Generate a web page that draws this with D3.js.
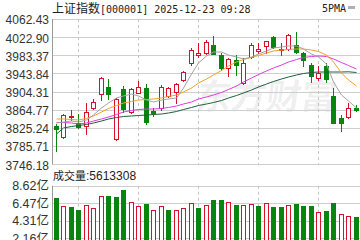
<!DOCTYPE html>
<html>
<head>
<meta charset="utf-8">
<script src="https://cdn.jsdelivr.net/npm/d3@7"></script>
<style>
  html, body { margin: 0; padding: 0; background: #fff; overflow: hidden; }
  svg { display: block; }
</style>
</head>
<body>
<svg id="kline-chart"></svg>
<script>
// Daily candles of 上证指数
const open = [3829.54, 3805.60, 3850.43, 3836.07, 3829.54, 3868.72, 3899.19, 3914.42, 3801.25, 3910.07, 3860.01, 3901.37, 3912.25, 3862.19, 3868.72, 3894.84, 3903.54, 3929.66, 3966.66, 3984.07, 3988.43, 4005.84, 3984.07, 3955.78, 3973.19, 3923.13, 3979.72, 3992.78, 4003.66, 4023.25, 3994.95, 3997.13, 4005.84, 3988.43, 3962.31, 3934.01, 3960.13, 3894.84, 3846.95, 3849.13, 3868.72];
const high = [3833.89, 3855.66, 3864.36, 3855.66, 3879.60, 3888.31, 3936.19, 3931.84, 3890.48, 3916.60, 3912.25, 3927.48, 3920.95, 3868.72, 3918.78, 3914.42, 3923.13, 3949.25, 3999.31, 4010.19, 4016.72, 4025.43, 3988.43, 3977.54, 3984.07, 3977.54, 4010.19, 4010.19, 4014.54, 4025.43, 4010.19, 4029.78, 4034.13, 3990.60, 3966.66, 3960.13, 3966.66, 3912.25, 3853.48, 3879.60, 3875.25];
const low = [3775.13, 3803.42, 3842.60, 3825.19, 3812.13, 3867.50, 3886.13, 3888.31, 3799.07, 3860.01, 3857.84, 3900.50, 3833.89, 3851.31, 3864.36, 3892.66, 3879.60, 3927.48, 3962.31, 3979.72, 3986.25, 3985.50, 3951.42, 3938.37, 3940.54, 3920.95, 3977.54, 3988.43, 3988.43, 3999.31, 3984.07, 3994.95, 3988.43, 3960.13, 3925.31, 3929.66, 3925.31, 3835.50, 3818.66, 3846.95, 3862.19];
const close = [3823.01, 3853.48, 3852.18, 3827.36, 3860.01, 3881.78, 3934.01, 3899.19, 3888.31, 3866.54, 3910.07, 3914.42, 3838.25, 3857.84, 3914.42, 3912.25, 3920.95, 3947.07, 3994.95, 3988.43, 4012.37, 3986.25, 3955.78, 3975.37, 3962.31, 3966.66, 4005.84, 3997.13, 4014.54, 4001.48, 3997.13, 4027.60, 3990.60, 3973.19, 3938.37, 3944.90, 3931.84, 3836.07, 3836.51, 3868.72, 3865.45];

// Volume in 亿
const volume = [7.07, 6.12, 5.96, 5.63, 6.24, 5.84, 7.35, 7.35, 7.19, 8.09, 6.58, 6.12, 6.37, 5.63, 6.12, 5.63, 5.63, 5.84, 6.45, 5.84, 6.24, 6.86, 6.86, 6.58, 6.24, 6.24, 6.37, 6.12, 6.45, 5.96, 5.96, 6.24, 6.37, 6.12, 6.12, 5.42, 5.50, 6.53, 5.13, 4.89, 4.73];

// Moving averages
const ma5 = [3836.07, 3838.25, 3840.42, 3838.25, 3842.60, 3853.48, 3868.72, 3879.60, 3890.48, 3894.84, 3899.19, 3894.84, 3886.13, 3881.78, 3886.13, 3888.31, 3890.48, 3912.25, 3942.72, 3966.66, 3981.90, 3990.60, 3990.60, 3984.07, 3979.72, 3975.37, 3979.72, 3986.25, 3992.78, 3999.31, 4001.48, 4003.66, 4003.66, 3997.13, 3986.25, 3979.72, 3964.48, 3925.31, 3897.01, 3883.95, 3868.72];
const ma10 = [3844.78, 3844.78, 3843.69, 3842.60, 3845.86, 3851.31, 3860.01, 3867.63, 3874.16, 3879.60, 3882.86, 3886.13, 3887.22, 3888.31, 3890.48, 3893.75, 3897.01, 3903.54, 3912.25, 3923.13, 3931.84, 3940.54, 3950.34, 3960.13, 3968.84, 3974.28, 3978.63, 3982.98, 3988.43, 3992.78, 3994.95, 3996.04, 3997.13, 3997.13, 3994.95, 3991.69, 3984.07, 3968.84, 3944.90, 3929.66, 3916.60];
const ma20 = [3837.16, 3837.16, 3836.07, 3833.89, 3836.07, 3840.42, 3844.78, 3849.13, 3854.57, 3860.01, 3863.28, 3865.45, 3866.54, 3866.54, 3867.63, 3869.81, 3873.07, 3877.42, 3881.78, 3888.31, 3892.66, 3897.01, 3902.45, 3908.98, 3916.60, 3925.31, 3934.01, 3941.63, 3949.25, 3955.78, 3962.31, 3968.84, 3974.28, 3978.63, 3980.81, 3981.90, 3980.81, 3975.37, 3967.75, 3961.22, 3953.60];
const ma60 = [3812.13, 3825.19, 3828.45, 3830.63, 3832.81, 3836.07, 3840.42, 3844.78, 3848.04, 3850.22, 3851.31, 3852.39, 3853.48, 3854.57, 3855.66, 3857.84, 3861.10, 3865.45, 3869.81, 3874.16, 3877.42, 3880.69, 3885.04, 3890.48, 3895.92, 3901.37, 3907.89, 3914.42, 3920.95, 3926.40, 3931.84, 3936.19, 3940.54, 3943.81, 3945.98, 3947.07, 3947.07, 3947.07, 3947.07, 3947.51, 3945.98];

// Axis tick labels
const priceTicks = [4062.43, 4022.90, 3983.37, 3943.84, 3904.31, 3864.77, 3825.24, 3785.71, 3746.18];
const volumeTicks = [8.62, 6.47, 4.31, 2.16];
const gridDays = [3, 11, 19, 27, 35];

const days = close.map((d, i) => i);

const width = 360;
const height = 240;
const plotLeft = 52;
const step = 7.5;
const priceTop = 19;
const priceBottom = 164.3;
const volTop = 185.7;
const volBottom = 255.7;

const red = "#d8102a";
const green = "#08850f";
const labelFont = "'Liberation Sans', Arial, 'Noto Sans CJK SC', sans-serif";
const cjkFont = "'Noto Sans CJK SC', sans-serif";
const monoFont = "'DejaVu Sans Mono', 'Liberation Mono', monospace";

const svg = d3.select("#kline-chart").attr("width", width).attr("height", height);

const x = d3
  .scaleBand()
  .domain(days)
  .range([plotLeft, plotLeft + days.length * step]);
const cx = (i) => Math.round(x(i) + x.bandwidth() / 2);

const y = d3.scaleLinear().domain([3746.18, 4062.43]).range([priceBottom, priceTop]);
const yVol = d3.scaleLinear().domain([0, 8.62]).range([volBottom, volTop]);
const crisp = (v) => Math.round(v) + 0.5;

svg.append("rect").attr("width", width).attr("height", height).attr("fill", "#fff");

// Watermark
svg
  .append("text")
  .text("东方财富")
  .attr("x", 196)
  .attr("y", 109)
  .attr("transform", "skewX(-8) translate(14,0)")
  .style("font-family", cjkFont)
  .style("font-size", "35px")
  .style("font-weight", "bold")
  .style("fill", "#000")
  .style("fill-opacity", 0.075);

// Horizontal grid lines
svg
  .append("g")
  .selectAll("line")
  .data(priceTicks)
  .enter()
  .append("line")
  .attr("x1", plotLeft)
  .attr("x2", width)
  .attr("y1", (d) => crisp(y(d)))
  .attr("y2", (d) => crisp(y(d)))
  .attr("stroke", "#cfcfcf");

svg
  .append("g")
  .selectAll("line")
  .data(volumeTicks)
  .enter()
  .append("line")
  .attr("x1", plotLeft)
  .attr("x2", width)
  .attr("y1", (d) => crisp(yVol(d)))
  .attr("y2", (d) => crisp(yVol(d)))
  .attr("stroke", "#cfcfcf");

// Vertical dashed grid lines in both panels
[[priceTop, priceBottom], [volTop, height]].forEach(([top, bottom]) => {
  svg
    .append("g")
    .selectAll("line")
    .data(gridDays)
    .enter()
    .append("line")
    .attr("x1", (d) => cx(d) + 0.5)
    .attr("x2", (d) => cx(d) + 0.5)
    .attr("y1", top)
    .attr("y2", bottom)
    .attr("stroke", "#c4c4c4")
    .attr("stroke-dasharray", "3,3");

  svg
    .append("line")
    .attr("x1", plotLeft + 0.5)
    .attr("x2", plotLeft + 0.5)
    .attr("y1", top)
    .attr("y2", bottom)
    .attr("stroke", "#9a9a9a");
});

// Price axis labels
svg
  .append("g")
  .call(
    d3.axisLeft(y).tickValues(priceTicks).tickFormat(d3.format(".2f")).tickSize(0).tickPadding(0)
  )
  .attr("transform", `translate(${plotLeft - 3},1)`)
  .call((g) => g.select(".domain").remove())
  .selectAll("text")
  .style("font-family", labelFont)
  .style("font-size", "12px")
  .style("fill", "#333");

// Volume axis labels
svg
  .append("g")
  .call(
    d3.axisLeft(yVol).tickValues(volumeTicks).tickFormat((d) => d3.format(".2f")(d) + "亿").tickSize(0).tickPadding(0)
  )
  .attr("transform", `translate(${plotLeft - 3},0)`)
  .call((g) => g.select(".domain").remove())
  .selectAll("text")
  .style("font-family", labelFont)
  .style("font-size", "12.5px")
  .style("fill", "#333");

// Candles
const isUp = (i) => close[i] >= open[i];
const candles = svg.append("g");

candles
  .selectAll("line")
  .data(days)
  .enter()
  .append("line")
  .attr("x1", (i) => cx(i) + 0.5)
  .attr("x2", (i) => cx(i) + 0.5)
  .attr("y1", (i) => Math.round(y(high[i])))
  .attr("y2", (i) => Math.round(y(low[i])) + 1)
  .attr("stroke", (i) => (isUp(i) ? red : green));

candles
  .selectAll("rect")
  .data(days)
  .enter()
  .append("rect")
  .each(function (i) {
    const top = Math.round(y(Math.max(open[i], close[i])));
    const bottom = Math.round(y(Math.min(open[i], close[i])));
    const bar = d3.select(this);
    if (isUp(i)) {
      bar
        .attr("x", cx(i) - 1.5)
        .attr("y", top + 0.5)
        .attr("width", 4)
        .attr("height", Math.max(bottom - top, 1))
        .attr("fill", "#fff")
        .attr("stroke", red);
    } else {
      bar
        .attr("x", cx(i) - 2)
        .attr("y", top)
        .attr("width", 5)
        .attr("height", Math.max(bottom - top + 1, 2))
        .attr("fill", green);
    }
  });

// Moving average lines
svg
  .append("clipPath")
  .attr("id", "price-clip")
  .append("rect")
  .attr("x", plotLeft + 1)
  .attr("y", priceTop)
  .attr("width", width - plotLeft)
  .attr("height", priceBottom - priceTop);

const maLine = d3
  .line()
  .x((d, i) => cx(i) + 0.5)
  .y((d) => y(d));

[
  { values: ma60, color: "#1f5e3d" },
  { values: ma20, color: "#e03ce0" },
  { values: ma10, color: "#f0a12c" },
  { values: ma5, color: "#a3a3a3" },
].forEach((s) => {
  svg
    .append("path")
    .datum(s.values)
    .attr("d", maLine)
    .attr("clip-path", "url(#price-clip)")
    .attr("fill", "none")
    .attr("stroke", s.color)
    .attr("stroke-width", 1);
});

// Volume bars, coloured against the previous close
const volUp = (i) => (i === 0 ? close[0] >= open[0] : close[i] >= close[i - 1]);

svg
  .append("g")
  .selectAll("rect")
  .data(days)
  .enter()
  .append("rect")
  .each(function (i) {
    const top = Math.round(yVol(volume[i]));
    const bar = d3.select(this);
    if (volUp(i)) {
      bar
        .attr("x", cx(i) - 1.5)
        .attr("y", top + 0.5)
        .attr("width", 4)
        .attr("height", volBottom - top)
        .attr("fill", "#fff")
        .attr("stroke", red);
    } else {
      bar
        .attr("x", cx(i) - 2)
        .attr("y", top)
        .attr("width", 5)
        .attr("height", volBottom - top)
        .attr("fill", green);
    }
  });

// Titles
const title = svg.append("text").attr("x", 52).attr("y", 13).style("fill", "#222");
title.append("tspan").text("上证指数").style("font-family", cjkFont).style("font-size", "12px");
title
  .append("tspan")
  .text("[000001] 2025-12-23 09:28")
  .style("font-family", monoFont)
  .style("font-size", "10px");

svg
  .append("text")
  .text("5PMA")
  .attr("x", 322)
  .attr("y", 12)
  .style("font-family", monoFont)
  .style("font-size", "10px")
  .style("fill", "#222");

svg
  .append("rect")
  .attr("x", 348)
  .attr("y", 6)
  .attr("width", 7)
  .attr("height", 3)
  .attr("fill", "#b0b0b0");

const volTitle = svg.append("text").attr("x", 53).attr("y", 180).style("fill", "#222");
volTitle.append("tspan").text("成交量").style("font-family", cjkFont).style("font-size", "11px");
volTitle.append("tspan").text(":5613308").style("font-family", labelFont).style("font-size", "12px");
</script>
</body>
</html>
